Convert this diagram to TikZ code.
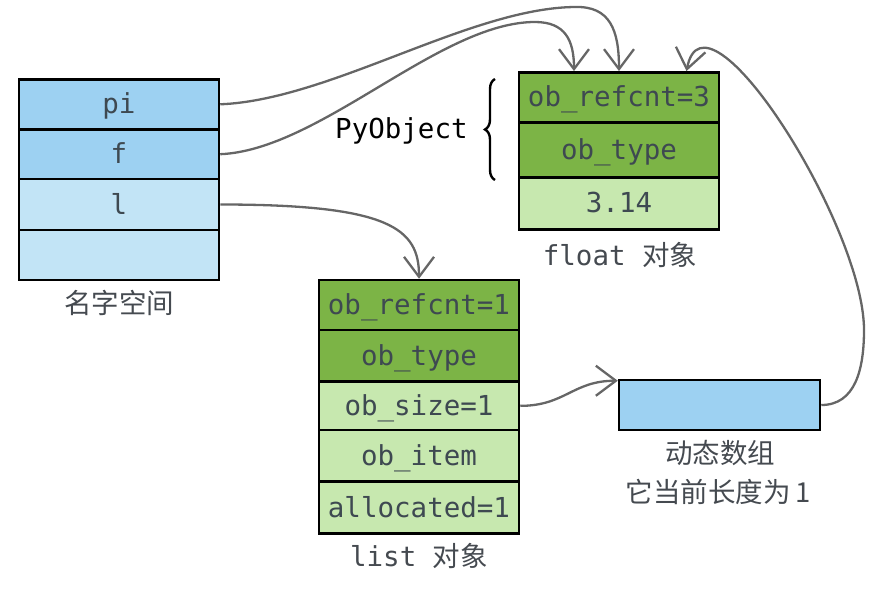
\documentclass[tikz,border=0pt]{standalone}
\usepackage{fontspec}
\setmonofont{DejaVu Sans Mono}
\newfontfamily\cjk{Noto Sans CJK SC}
\usetikzlibrary{arrows.meta,decorations.pathreplacing}
\definecolor{nsdark}{HTML}{9DD1F2}
\definecolor{nslight}{HTML}{C2E4F6}
\definecolor{gdark}{HTML}{7CB446}
\definecolor{glight}{HTML}{C7E8AF}
\definecolor{txt}{HTML}{3E4951}
\definecolor{lbl}{HTML}{454A50}
\definecolor{conn}{HTML}{666666}
\begin{document}
\begin{tikzpicture}[x=1pt,y=-1pt,
  cell/.style={draw=black,line width=2.5pt,minimum width=200pt,inner sep=0pt,
    text height=19pt,text depth=0pt,text=txt,
    font=\fontsize{27.5}{30}\selectfont\ttfamily},
  caption/.style={anchor=base,inner sep=0pt,text=lbl,font=\fontsize{27.5}{30}\selectfont},
  link/.style={draw=conn,line width=2.3pt,
    -{Straight Barb[length=20pt,width=30pt,line width=2.3pt]}},
  brace/.style={draw=black,line width=2.4pt,decorate,
    decoration={brace,amplitude=10pt}}]
\useasboundingbox (0,0) rectangle (870,589);
% namespace
\node[cell,fill=nsdark,minimum height=50pt] (ns1) at (119,104.3) {pi};
\node[cell,fill=nsdark,minimum height=49.7pt] (ns2) at (119,154.2) {f};
\node[cell,fill=nslight,minimum height=51pt] (ns3) at (119,204.5) {l};
\node[cell,fill=nslight,minimum height=50pt] (ns4) at (119,255) {};
\node[caption] (nslbl) at (119,313) {\cjk 名字空间};
% float object
\node[cell,fill=gdark,minimum height=50pt] (f1) at (619,97.3) {ob\_refcnt=3};
\node[cell,fill=gdark,minimum height=55pt] (f2) at (619,149.8) {ob\_type};
\node[cell,fill=glight,minimum height=52pt] (f3) at (619,203.3) {3.14};
\node[caption] (flbl) at (620,265) {\ttfamily float {\cjk 对象}};
% PyObject brace
\node[anchor=base west,inner sep=0pt,text=black,font=\fontsize{27.5}{30}\selectfont\ttfamily] (pyo) at (335,138) {PyObject};
\coordinate (brb) at (495,180);
\coordinate (brt) at (495,79);
\draw[brace] (brb) -- (brt);
% list object
\node[cell,fill=gdark,minimum height=50pt] (l1) at (419,305) {ob\_refcnt=1};
\node[cell,fill=gdark,minimum height=51.7pt] (l2) at (419,355.85) {ob\_type};
\node[cell,fill=glight,minimum height=48.3pt] (l3) at (419,405.85) {ob\_size=1};
\node[cell,fill=glight,minimum height=51.7pt] (l4) at (419,455.85) {ob\_item};
\node[cell,fill=glight,minimum height=51.6pt] (l5) at (419,507.5) {allocated=1};
\node[caption] (llbl) at (419,566) {\ttfamily list {\cjk 对象}};
% dynamic array
\node[cell,fill=nsdark,minimum width=201pt,minimum height=50pt] (dyn) at (719.5,405) {};
\node[caption] (dlbl1) at (720,463) {\cjk 动态数组};
\node[caption] (dlbl2) at (718,502) {\cjk 它当前长度为\,1};
% connectors
\draw[link] (ns1.east) .. controls (330,100) and (470,8) .. (575,7)
  .. controls (610,6) and (619,30) .. (f1.north);
\draw[link] (ns2.east) .. controls (320,150) and (440,22) .. (535,22)
  .. controls (565,22) and (574,40) .. ([xshift=-45pt]f1.north);
\draw[link] (ns3.east) .. controls +(170,0) and +(0,-50) .. (l1.north);
\draw[link] (l3.east) .. controls +(45,0) and +(-45,0) .. ([yshift=-2pt]dyn.north west);
\draw[link] (dyn.east) .. controls (855,405) and (864,370) .. (864,330)
  .. controls (864,225) and (705,-25) .. ([xshift=67.5pt]f1.north);
\end{tikzpicture}
\end{document}
